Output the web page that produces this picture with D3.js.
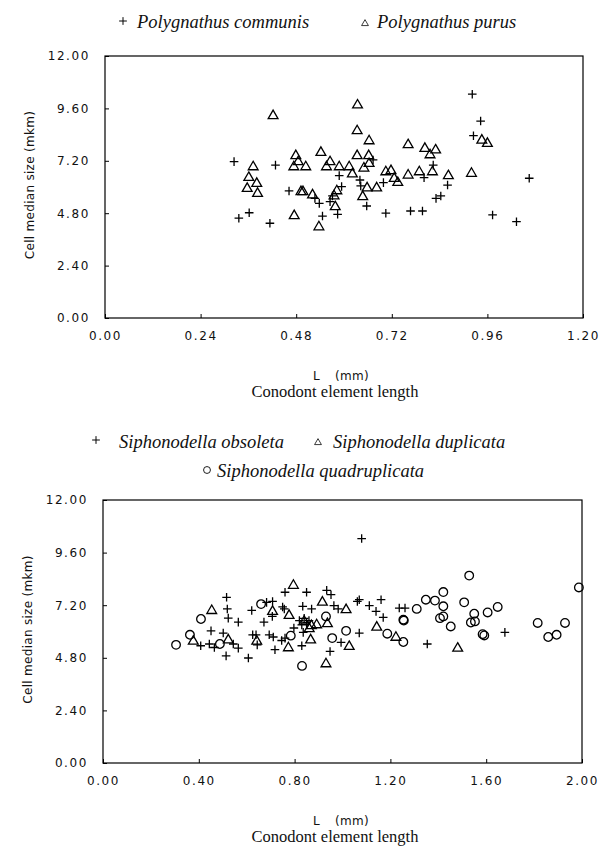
<!DOCTYPE html>
<html><head><meta charset="utf-8">
<script src="https://cdn.jsdelivr.net/npm/d3@7/dist/d3.min.js"></script>
<style>
html,body{margin:0;padding:0;background:#fff;}
svg{display:block;}
.tick text{font-family:"DejaVu Sans",sans-serif;font-size:12px;letter-spacing:1.6px;fill:#111;}
.ttl{font-family:"DejaVu Sans",sans-serif;font-size:12px;letter-spacing:0.3px;fill:#111;}
.ser{font-family:"Liberation Serif",serif;font-size:16.5px;fill:#111;}
.leg{font-family:"Liberation Serif",serif;font-style:italic;font-size:18.5px;fill:#111;}
</style></head>
<body>
<svg id="c" width="601" height="848"></svg>
<script>
// ---------- data ----------
const yTicks = [0, 2.4, 4.8, 7.2, 9.6, 12];
const topXTicks = [0, 0.24, 0.48, 0.72, 0.96, 1.2];
const botXTicks = [0, 0.4, 0.8, 1.2, 1.6, 2.0];

const communis = [[0.324,7.16],[0.336,4.57],[0.362,4.82],[0.414,4.34],[0.428,7.0],[0.462,5.82],[0.527,5.48],[0.538,5.25],[0.546,4.67],[0.565,5.33],[0.571,5.59],[0.584,4.75],[0.588,6.52],[0.594,6.02],[0.640,6.32],[0.642,6.05],[0.657,5.13],[0.673,7.24],[0.699,6.2],[0.705,4.80],[0.767,4.90],[0.797,4.90],[0.801,6.43],[0.824,7.0],[0.831,5.48],[0.843,5.59],[0.860,6.09],[0.922,10.25],[0.925,8.35],[0.943,9.02],[0.973,4.72],[1.033,4.41],[1.065,6.40]];

const purus = [[0.422,9.3],[0.372,6.96],[0.361,6.47],[0.381,6.2],[0.357,5.97],[0.383,5.74],[0.634,9.79],[0.633,8.61],[0.663,8.15],[0.761,7.97],[0.803,7.80],[0.830,7.73],[0.816,7.51],[0.542,7.62],[0.479,7.47],[0.485,7.19],[0.474,6.96],[0.504,6.96],[0.565,7.19],[0.556,6.96],[0.588,6.96],[0.613,6.96],[0.633,7.47],[0.662,7.47],[0.663,7.11],[0.650,6.9],[0.621,6.63],[0.705,6.73],[0.718,6.78],[0.726,6.43],[0.735,6.24],[0.761,6.58],[0.789,6.73],[0.822,6.73],[0.658,5.99],[0.682,5.99],[0.647,5.59],[0.492,5.82],[0.497,5.82],[0.582,5.86],[0.575,5.63],[0.521,5.67],[0.578,5.13],[0.475,4.72],[0.537,4.21],[0.946,8.18],[0.960,8.03],[0.862,6.55],[0.920,6.66]];

const obsoleta = [[0.408,5.35],[0.444,5.43],[0.465,5.27],[0.544,5.43],[0.565,5.24],[0.514,4.89],[0.607,4.79],[0.451,6.03],[0.502,5.93],[0.516,7.56],[0.519,7.03],[0.523,6.61],[0.565,6.43],[0.621,6.96],[0.683,7.33],[0.708,7.37],[0.707,6.69],[0.672,6.43],[0.625,5.85],[0.639,5.85],[0.644,5.39],[0.694,5.85],[0.711,5.75],[0.718,5.17],[1.080,10.24],[0.760,7.79],[0.850,7.79],[0.934,7.88],[0.952,7.68],[0.750,7.12],[0.757,7.03],[0.834,7.15],[0.871,7.03],[0.964,7.18],[0.982,7.03],[1.062,7.37],[1.070,7.45],[1.161,7.45],[1.112,7.18],[1.140,6.92],[1.170,6.64],[0.82,6.5],[0.84,6.6],[0.85,6.4],[0.83,6.3],[0.86,6.5],[0.797,6.16],[0.836,5.96],[0.760,5.70],[0.746,5.59],[0.830,5.35],[0.994,5.50],[0.948,5.09],[1.070,5.93],[1.237,7.07],[1.261,7.07],[1.354,5.43],[1.678,5.96]];

const duplicata = [[0.377,5.59],[0.523,5.65],[0.454,6.99],[0.708,6.95],[0.642,5.59],[0.795,8.14],[0.916,7.37],[0.777,6.77],[1.015,7.03],[0.937,6.39],[0.892,6.34],[0.84,6.5],[0.87,6.3],[0.861,6.16],[0.774,5.29],[0.867,5.65],[1.028,5.35],[0.931,4.56],[1.143,6.23],[1.223,5.77],[1.481,5.27]];

const quadruplicata = [[0.305,5.39],[0.363,5.85],[0.488,5.43],[0.409,6.57],[0.660,7.25],[0.931,6.69],[0.784,5.81],[0.957,5.70],[1.015,6.03],[0.831,4.43],[1.187,5.90],[1.254,5.52],[1.254,6.54],[1.256,6.50],[1.310,7.03],[1.348,7.45],[1.386,7.41],[1.407,6.61],[1.421,7.80],[1.421,7.15],[1.421,6.69],[1.452,6.23],[1.529,8.55],[1.508,7.33],[1.550,6.81],[1.536,6.41],[1.553,6.46],[1.606,6.87],[1.648,7.12],[1.585,5.88],[1.592,5.82],[1.815,6.39],[1.859,5.75],[1.894,5.85],[1.929,6.39],[1.987,8.01]];

const yTitle = "Cell median size (mkm)";
const xTitleL = "L";
const xTitleUnit = "(mm)";
const xTitle2 = "Conodont element length";

// ---------- markers ----------
const shapes = {
  plus: "M-4.3,0H4.3M0,-4.3V4.3",
  tri: "M0,-4.8L4.9,3.7L-4.9,3.7Z",
  circle: d3.symbol().type(d3.symbolCircle).size(58)()
};
const svg = d3.select("#c");

function drawMark(g, shape, x, y, sc, sw) {
  g.append("path").attr("d", shapes[shape])
    .attr("transform", `translate(${x},${y})` + (sc ? ` scale(${sc})` : ""))
    .attr("fill", "none").attr("stroke", "#000").attr("stroke-width", sw || 1.3);
}

function chart(cfg) {
  const x = d3.scaleLinear().domain([cfg.xTicks[0], cfg.xTicks[cfg.xTicks.length-1]]).range([cfg.l, cfg.r]);
  const y = d3.scaleLinear().domain([0, 12]).range([cfg.b, cfg.t]);
  const g = svg.append("g");
  const fmt = d3.format(".2f");
  g.append("g").attr("transform", `translate(0,${cfg.b})`)
    .call(d3.axisBottom(x).tickValues(cfg.xTicks).tickFormat(fmt).tickSizeInner(-4).tickSizeOuter(0).tickPadding(13))
    .call(a => a.select(".domain").remove())
    .call(a => a.selectAll("line").attr("stroke", "#000").attr("stroke-width", 1));
  g.append("g").attr("transform", `translate(${cfg.l},0)`)
    .call(d3.axisLeft(y).tickValues(yTicks).tickFormat(fmt).tickSizeInner(-4).tickSizeOuter(0).tickPadding(15))
    .call(a => a.select(".domain").remove())
    .call(a => a.selectAll("line").attr("stroke", "#000").attr("stroke-width", 1));
  g.append("rect").attr("x", cfg.l).attr("y", cfg.t).attr("width", cfg.r - cfg.l).attr("height", cfg.b - cfg.t)
    .attr("fill", "none").attr("stroke", "#000").attr("stroke-width", 1.2);
  cfg.series.forEach(s => {
    s.data.forEach(d => drawMark(g, s.shape, x(d[0]), y(d[1])));
  });
  g.append("text").attr("class", "ttl").attr("text-anchor", "middle")
    .attr("transform", `translate(${cfg.ytx},${(cfg.t + cfg.b) / 2 - 2}) rotate(-90)`).text(yTitle);
  g.append("text").attr("class", "ttl").attr("x", 313).attr("y", cfg.b + 62).text(xTitleL);
  g.append("text").attr("class", "ttl").attr("x", 335).attr("y", cfg.b + 62).text(xTitleUnit);
  g.append("text").attr("class", "ser").attr("x", 335).attr("y", cfg.b + 79).attr("text-anchor", "middle").text(xTitle2);
}

chart({l:105, r:583, t:56, b:318, xTicks: topXTicks, ytx: 34, 
  series: [{data: communis, shape: "plus"}, {data: purus, shape: "tri"}]});
chart({l:103, r:582, t:500, b:763, xTicks: botXTicks, ytx: 32,
  series: [{data: obsoleta, shape: "plus"}, {data: duplicata, shape: "tri"}, {data: quadruplicata, shape: "circle"}]});

// ---------- legends ----------
function legendItem(sx, sy, shape, tx, ty, label, sc) {
  drawMark(svg, shape, sx, sy, sc, 1.1);
  svg.append("text").attr("class", "leg").attr("x", tx).attr("y", ty).text(label);
}
legendItem(123, 21, "plus", 137, 28, "Polygnathus communis", 0.9);
legendItem(365, 23, "tri", 377, 28, "Polygnathus purus", 0.7);
legendItem(96, 440, "plus", 119, 448, "Siphonodella obsoleta", 0.9);
legendItem(318, 442, "tri", 333, 448, "Siphonodella duplicata", 0.7);
legendItem(207, 470, "circle", 217, 477, "Siphonodella quadruplicata", 0.8);
</script>
</body></html>
